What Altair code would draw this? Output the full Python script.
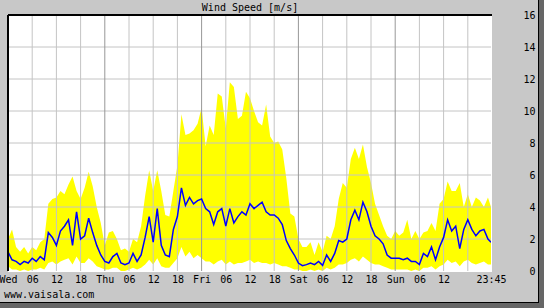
import json
import altair as alt
import pandas as pd

FONT = "DejaVu Sans Mono"
title_text = "Wind Speed [m/s]"
credit_text = "www.vaisala.com"

# hourly mean wind speed (m/s), Wed 00 .. Sun 23, plus 23:45
avg_wed = [1.2, 0.7, 0.6, 0.4, 0.6, 0.5, 0.8, 0.6, 0.9, 0.7, 2.4, 2.1, 1.6, 2.5, 2.8, 3.2, 1.6, 3.7, 2.0, 2.2, 3.3, 2.4, 1.6, 1.0]
avg_thu = [0.6, 0.5, 0.9, 1.1, 0.5, 0.4, 0.5, 1.1, 0.6, 1.0, 2.1, 3.4, 1.8, 3.9, 1.6, 1.0, 0.9, 2.6, 3.4, 5.2, 4.1, 4.6, 4.2, 4.4]
avg_fri = [4.5, 3.9, 3.7, 2.9, 3.7, 3.9, 2.8, 3.9, 3.0, 3.4, 3.7, 3.5, 4.2, 3.9, 4.1, 4.3, 3.7, 3.5, 3.5, 3.3, 2.9, 1.9, 1.4, 1.0]
avg_sat = [0.5, 0.33, 0.4, 0.5, 0.4, 0.6, 0.35, 1.0, 0.6, 1.1, 1.9, 1.8, 2.0, 3.2, 3.8, 3.2, 4.3, 3.7, 2.8, 2.2, 2.0, 1.7, 1.0, 0.8]
avg_sun = [0.8, 0.8, 0.7, 0.8, 0.6, 0.6, 0.4, 1.1, 0.9, 1.5, 0.7, 1.5, 2.1, 3.2, 2.5, 2.8, 1.4, 2.6, 3.2, 2.6, 2.2, 2.5, 2.6, 2.0]
avg_end = [1.8]

# hourly maximum (gust)
max_wed = [2.0, 2.6, 1.5, 1.2, 1.5, 1.1, 1.5, 1.3, 1.8, 2.0, 4.2, 4.5, 4.6, 5.0, 4.8, 5.4, 5.9, 5.0, 4.5, 5.2, 6.2, 5.3, 4.0, 3.0]
max_thu = [1.6, 2.4, 2.5, 2.0, 1.3, 1.4, 1.2, 2.0, 1.8, 2.8, 4.7, 6.3, 5.0, 6.3, 5.0, 3.5, 3.4, 5.0, 6.6, 9.8, 8.5, 8.6, 8.8, 9.2]
max_fri = [10.2, 7.8, 9.1, 8.5, 11.1, 10.9, 8.9, 11.8, 11.5, 9.5, 9.7, 11.2, 10.8, 10.0, 9.3, 9.1, 10.4, 8.4, 8.0, 8.1, 7.6, 5.8, 3.6, 3.4]
max_sat = [2.0, 1.5, 1.5, 1.8, 1.0, 1.8, 1.2, 2.2, 2.0, 2.8, 4.5, 5.5, 5.2, 7.0, 7.7, 7.0, 7.9, 6.5, 5.5, 4.2, 3.5, 2.8, 2.2, 2.0]
max_sun = [2.5, 2.2, 2.4, 3.2, 2.0, 2.5, 2.0, 2.4, 2.5, 3.0, 2.5, 4.2, 4.5, 5.6, 5.0, 5.0, 5.5, 4.0, 4.8, 4.0, 4.6, 4.4, 4.0, 4.6]
max_end = [4.0]

# hourly minimum (lull)
min_wed = [0.3, 0.1, 0.1, 0.0, 0.1, 0.0, 0.1, 0.1, 0.2, 0.1, 0.5, 0.6, 0.4, 0.6, 0.7, 0.8, 0.4, 0.9, 0.5, 0.5, 0.8, 0.6, 0.3, 0.2]
min_thu = [0.1, 0.1, 0.2, 0.2, 0.0, 0.0, 0.1, 0.2, 0.1, 0.2, 0.4, 0.7, 0.4, 0.8, 0.3, 0.2, 0.2, 0.5, 0.8, 1.5, 0.9, 1.2, 0.8, 1.0]
min_fri = [0.8, 0.6, 0.6, 0.4, 0.6, 0.7, 0.4, 0.6, 0.4, 0.5, 0.5, 0.6, 0.7, 0.5, 0.6, 0.5, 0.5, 0.4, 0.5, 0.4, 0.3, 0.3, 0.2, 0.1]
min_sat = [0.1, 0.0, 0.0, 0.1, 0.0, 0.1, 0.0, 0.2, 0.1, 0.2, 0.4, 0.4, 0.5, 0.7, 0.8, 0.6, 0.9, 0.7, 0.5, 0.4, 0.4, 0.3, 0.2, 0.1]
min_sun = [0.1, 0.1, 0.1, 0.1, 0.0, 0.1, 0.0, 0.2, 0.2, 0.3, 0.1, 0.3, 0.4, 0.7, 0.5, 0.6, 0.3, 0.6, 0.7, 0.5, 0.4, 0.5, 0.6, 0.4]
min_end = [0.4]

hours = list(range(120)) + [119.75]
avg = avg_wed + avg_thu + avg_fri + avg_sat + avg_sun + avg_end
mx = max_wed + max_thu + max_fri + max_sat + max_sun + max_end
mn = min_wed + min_thu + min_fri + min_sat + min_sun + min_end
df = pd.DataFrame({"h": hours, "avg": avg, "mx": mx, "mn": mn})

tick_values = [0, 6, 12, 18, 24, 30, 36, 42, 48, 54, 60, 66, 72, 78, 84, 90, 96, 102, 108, 114, 119.75]
tick_labels = ["Wed", "06", "12", "18", "Thu", "06", "12", "18", "Fri", "06", "12", "18",
               "Sat", "06", "12", "18", "Sun", "06", "12", "", "23:45"]
y_ticks = [0, 2, 4, 6, 8, 10, 12, 14, 16]
grid_y = [2, 4, 6, 8, 10, 12, 14]
grid_minor = [6, 12, 18, 30, 36, 42, 54, 60, 66, 78, 84, 90, 102, 108, 114]
grid_day = [24, 48, 72, 96]

W, H = 484, 256
LIGHT = "#C4C4C4"
DARK = "#989898"
BG = "#C8C8C8"

xs = alt.Scale(domain=[0, 120], nice=False, zero=False)
ys = alt.Scale(domain=[0, 16], nice=False)

label_expr = f"{json.dumps(tick_labels)}[indexof({json.dumps(tick_values)}, datum.value)]"

x_axis = alt.Axis(
    values=tick_values, labelExpr=label_expr, grid=False, ticks=False, domain=False,
    labelFont=FONT, labelFontSize=10, labelColor="black", labelPadding=3,
    labelBaseline="top", labelAlign="center", labelAngle=0,
    labelFlush=False, labelOverlap=False, title=None)
y_axis = alt.Axis(
    orient="right", values=y_ticks, grid=False, ticks=False, domain=False,
    labelFont=FONT, labelFontSize=10, labelColor="black", labelAlign="right",
    labelBaseline="middle", labelPadding=43, labelFlush=False, title=None)

base = alt.Chart(df)

band = base.mark_area(color="#FFFF00", interpolate="linear").encode(
    x=alt.X("h:Q", scale=xs, axis=x_axis),
    y=alt.Y("mx:Q", scale=ys, axis=y_axis),
    y2="mn:Q",
)

gy = alt.Chart(pd.DataFrame({"v": grid_y})).mark_rule(color=LIGHT, strokeWidth=1).encode(
    y=alt.Y("v:Q", scale=ys, axis=y_axis))
gxm = alt.Chart(pd.DataFrame({"v": grid_minor})).mark_rule(color=LIGHT, strokeWidth=1).encode(
    x=alt.X("v:Q", scale=xs, axis=x_axis))
gxd = alt.Chart(pd.DataFrame({"v": grid_day})).mark_rule(color=DARK, strokeWidth=1).encode(
    x=alt.X("v:Q", scale=xs, axis=x_axis))

line = base.mark_line(color="#0000FF", strokeWidth=1.5).encode(
    x=alt.X("h:Q", scale=xs, axis=x_axis), y=alt.Y("avg:Q", scale=ys, axis=y_axis))

one = pd.DataFrame({"a": [0]})
frame_left = alt.Chart(one).mark_rule(color="black", strokeWidth=2).encode(
    x=alt.value(0), y=alt.value(0), y2=alt.value(H))
frame_top = alt.Chart(one).mark_rule(color="black", strokeWidth=2).encode(
    x=alt.value(0), x2=alt.value(W), y=alt.value(0))
frame_right = alt.Chart(one).mark_rule(color="white", strokeWidth=1).encode(
    x=alt.value(W - 0.5), y=alt.value(0), y2=alt.value(H))
frame_bottom = alt.Chart(one).mark_rule(color="white", strokeWidth=1).encode(
    x=alt.value(0), x2=alt.value(W), y=alt.value(H + 0.5))

shadow_r = alt.Chart(one).mark_rect(color="#666666").encode(
    x=alt.value(531), x2=alt.value(536), y=alt.value(-15), y2=alt.value(293))
shadow_b = alt.Chart(one).mark_rect(color="#666666").encode(
    x=alt.value(-8), x2=alt.value(536), y=alt.value(288), y2=alt.value(293))
edge_r = alt.Chart(one).mark_rule(color="black", strokeWidth=1).encode(
    x=alt.value(530.5), y=alt.value(-15), y2=alt.value(288))
edge_b = alt.Chart(one).mark_rule(color="black", strokeWidth=1).encode(
    x=alt.value(-8), x2=alt.value(531), y=alt.value(287.5))

title = alt.Chart(pd.DataFrame({"t": [title_text]})).mark_text(
    font=FONT, fontSize=10, color="black", align="center", baseline="middle").encode(
    x=alt.value(W / 2), y=alt.value(-7.5), text="t:N")
credit = alt.Chart(pd.DataFrame({"t": [credit_text]})).mark_text(
    font=FONT, fontSize=10, color="black", align="left", baseline="middle").encode(
    x=alt.value(-4), y=alt.value(280), text="t:N")

chart = alt.layer(
    band, gy, gxm, gxd, line,
    frame_right, frame_bottom, frame_left, frame_top,
    shadow_r, shadow_b, edge_r, edge_b, title, credit,
).properties(
    width=W, height=H,
    autosize=alt.AutoSizeParams(type="none"),
    padding={"left": 8, "top": 15, "right": 52, "bottom": 37},
    background=BG,
).configure_view(stroke=None, fill="white")

chart.save("out.html", embed_options={"renderer": "svg", "actions": False})
